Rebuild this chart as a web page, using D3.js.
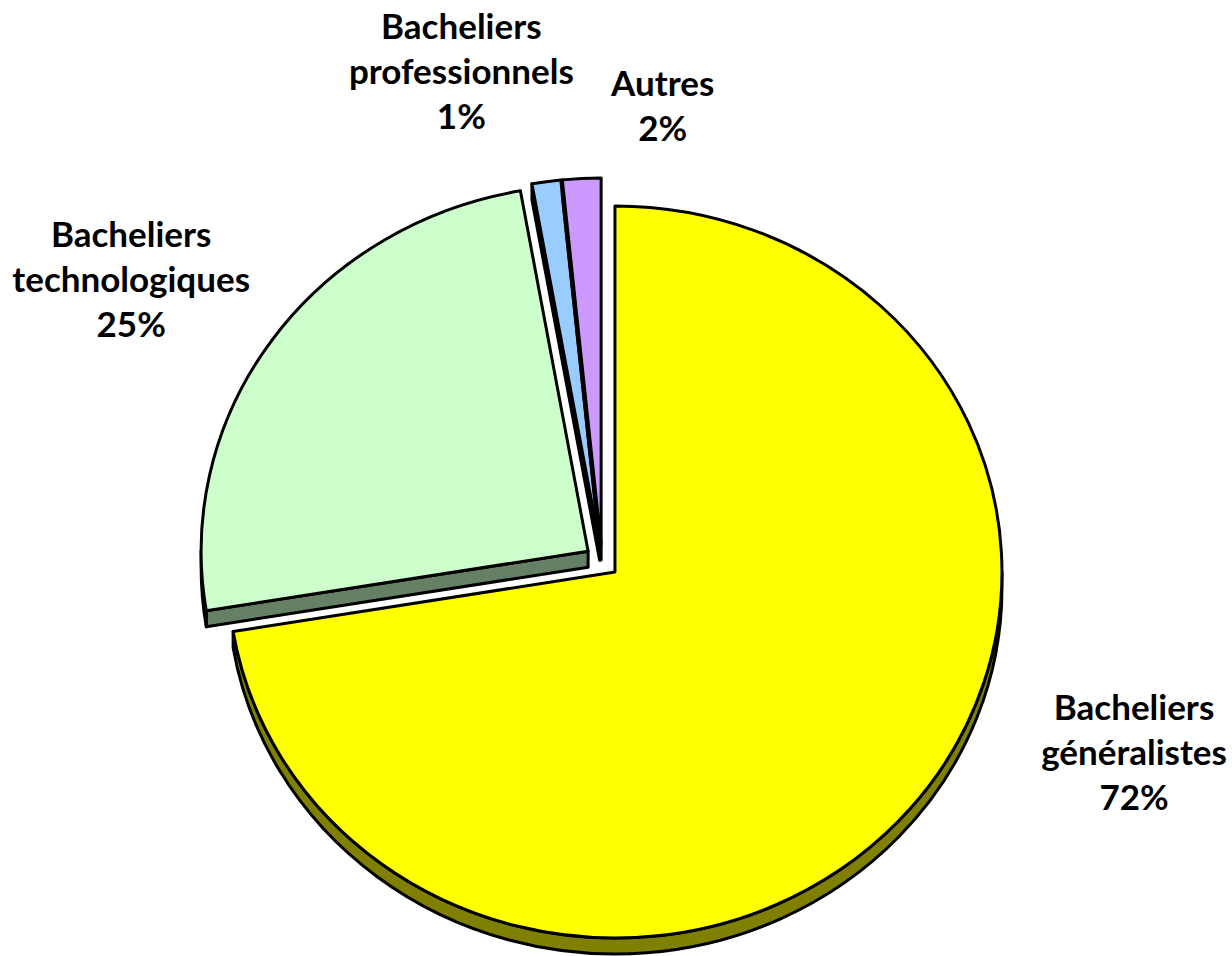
<!DOCTYPE html>
<html>
<head>
<meta charset="utf-8">
<script src="https://cdn.jsdelivr.net/npm/d3@7"></script>
<style>
  html, body { margin: 0; padding: 0; background: #ffffff; }
  svg { display: block; }
</style>
</head>
<body>
<svg id="chart" width="1232" height="956"></svg>
<script>
// ---- data ----
const categories = ["Bacheliers généralistes", "Bacheliers technologiques", "Bacheliers professionnels", "Autres"];
const values = [72.4, 24.8, 1.2, 1.6];
const topColors = ["#FFFF00", "#CCFFCC", "#99CCFF", "#CC99FF"];
const sideColors = ["#808000", "#668066", "#4D6680", "#664D80"];

// ---- layout ----
const W = 1232, H = 956;
const cx = 602, cy = 561;      // common pie centre
const rx = 387, ry = 366;      // ellipse radii (slight tilt)
const explode = 17;            // explosion distance
const depth = 16;              // 3D thickness
const lineH = 45;
const labelNudge = [[224, -44], [-141, -48], [-85, -98], [81, -60]];

const svg = d3.select("#chart");
const total = d3.sum(values);
const fmt = d3.format(".0%");

const pie = d3.pie().sort(null).value(d => d);
const arcs = pie(values).map((a, i) => {
  const mid = (a.startAngle + a.endAngle) / 2;
  return {
    ...a, i, mid,
    vx: cx + explode * Math.sin(mid),
    vy: cy - explode * Math.cos(mid)
  };
});

function pt(a, th, dz = 0) {
  return [a.vx + rx * Math.sin(th), a.vy - ry * Math.cos(th) + dz];
}

function topPath(a) {
  const p0 = pt(a, a.startAngle), p1 = pt(a, a.endAngle);
  const large = (a.endAngle - a.startAngle) > Math.PI ? 1 : 0;
  return `M${a.vx},${a.vy}L${p0[0]},${p0[1]}A${rx},${ry} 0 ${large} 1 ${p1[0]},${p1[1]}Z`;
}

function wallPath(a) {
  const s = Math.max(a.startAngle, Math.PI / 2);
  const e = Math.min(a.endAngle, 3 * Math.PI / 2);
  if (e <= s) return null;
  const p0 = pt(a, s), p1 = pt(a, e), p2 = pt(a, e, depth), p3 = pt(a, s, depth);
  const large = (e - s) > Math.PI ? 1 : 0;
  return `M${p0[0]},${p0[1]}A${rx},${ry} 0 ${large} 1 ${p1[0]},${p1[1]}` +
         `L${p2[0]},${p2[1]}A${rx},${ry} 0 ${large} 0 ${p3[0]},${p3[1]}Z`;
}

function facePath(a, th) {
  const p = pt(a, th), q = pt(a, th, depth);
  return `M${a.vx},${a.vy}L${p[0]},${p[1]}L${q[0]},${q[1]}L${a.vx},${a.vy + depth}Z`;
}

const g = svg.append("g");
arcs.forEach(a => {
  const sg = g.append("g");
  const style = sel => sel.attr("stroke", "#000").attr("stroke-width", 3).attr("stroke-linejoin", "round");
  // radial faces facing the viewer
  if (Math.sin(a.startAngle) < -1e-6) {
    sg.append("path").attr("d", facePath(a, a.startAngle)).attr("fill", sideColors[a.i]).call(style);
  }
  if (Math.sin(a.endAngle) > 1e-6) {
    sg.append("path").attr("d", facePath(a, a.endAngle)).attr("fill", sideColors[a.i]).call(style);
  }
  const wp = wallPath(a);
  if (wp) sg.append("path").attr("d", wp).attr("fill", sideColors[a.i]).call(style);
  sg.append("path").attr("d", topPath(a)).attr("fill", topColors[a.i]).call(style);
});

// ---- labels ----
const lg = svg.append("g")
  .attr("font-family", "Lato, 'Open Sans', sans-serif")
  .attr("font-weight", 700)
  .attr("font-size", 35)
  .attr("fill", "#000")
  .attr("text-anchor", "middle");

arcs.forEach(a => {
  const e = pt(a, a.mid);
  const x = e[0] + labelNudge[a.i][0];
  const y = e[1] + labelNudge[a.i][1];
  const lines = categories[a.i].split(" ").concat([fmt(a.value / total)]);
  const n = lines.length;
  const t = lg.append("text").attr("x", x).attr("y", y);
  lines.forEach((ln, k) => {
    t.append("tspan").attr("x", x).attr("y", y + (k - (n - 1) / 2) * lineH).text(ln);
  });
});
</script>
</body>
</html>
